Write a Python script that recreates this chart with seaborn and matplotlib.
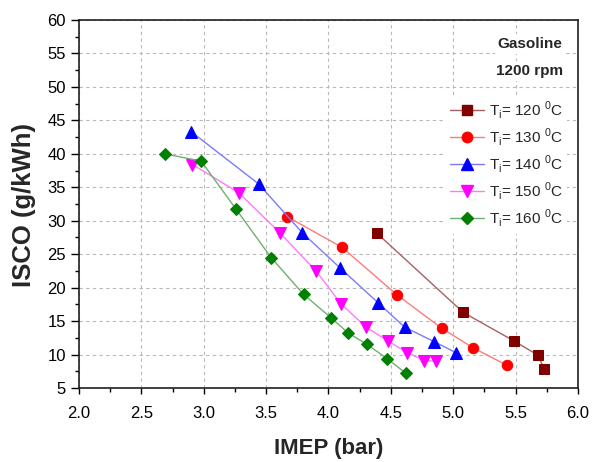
import numpy as np
import pandas as pd
import matplotlib
matplotlib.use("Agg")
import matplotlib.pyplot as plt
from matplotlib.lines import Line2D
import seaborn as sns

# ---- data ----
imep_120 = [4.39, 5.08, 5.49, 5.68, 5.73]
isco_120 = [28.1, 16.3, 12.0, 9.9, 7.8]

imep_130 = [3.67, 4.11, 4.55, 4.91, 5.16, 5.43]
isco_130 = [30.6, 26.0, 18.9, 13.9, 11.0, 8.4]

imep_140 = [2.90, 3.44, 3.79, 4.09, 4.40, 4.61, 4.85, 5.02]
isco_140 = [43.3, 35.5, 28.2, 23.0, 17.7, 14.1, 11.9, 10.3]

imep_150 = [2.91, 3.28, 3.61, 3.90, 4.10, 4.30, 4.48, 4.63, 4.77, 4.86]
isco_150 = [38.4, 34.2, 28.2, 22.5, 17.6, 14.1, 12.0, 10.3, 9.1, 9.0]

imep_160 = [2.69, 2.98, 3.26, 3.54, 3.80, 4.02, 4.16, 4.31, 4.47, 4.62]
isco_160 = [40.0, 38.9, 31.7, 24.5, 19.0, 15.5, 13.2, 11.5, 9.4, 7.2]

temps = ["120", "130", "140", "150", "160"]
x_ticks = [2.0, 2.5, 3.0, 3.5, 4.0, 4.5, 5.0, 5.5, 6.0]
y_ticks = [5, 10, 15, 20, 25, 30, 35, 40, 45, 50, 55, 60]

series = {
    "120": (imep_120, isco_120),
    "130": (imep_130, isco_130),
    "140": (imep_140, isco_140),
    "150": (imep_150, isco_150),
    "160": (imep_160, isco_160),
}

rows = []
for t in temps:
    xs, ys = series[t]
    for i, (a, b) in enumerate(zip(xs, ys)):
        rows.append({"T": t, "IMEP": a, "ISCO": b, "order": i})
df = pd.DataFrame(rows)

marker_colors = {"120": "#800000", "130": "#ff0000", "140": "#0000ff",
                 "150": "#ff00ff", "160": "#008000"}
line_colors = {"120": "#a86060", "130": "#ff7a7a", "140": "#7a7aff",
               "150": "#ff7aff", "160": "#70b070"}
markers = {"120": "s", "130": "o", "140": "^", "150": "v", "160": "D"}
msizes = {"120": 7.5, "130": 7.5, "140": 8, "150": 8, "160": 6.5}

sns.set_style("white")
plt.rcParams["font.family"] = ["Liberation Sans", "DejaVu Sans"]
plt.rcParams["mathtext.fontset"] = "custom"
plt.rcParams["mathtext.rm"] = "Liberation Sans"

fig = plt.figure(figsize=(6.02, 4.62), dpi=100)
ax = fig.add_axes([0.1312, 0.1602, 0.8288, 0.7965])

handles = []
for t in temps:
    sub = df[df["T"] == t]
    sns.lineplot(data=sub, x="IMEP", y="ISCO", sort=False, ax=ax,
                 color=line_colors[t], lw=1.0, marker=markers[t],
                 markersize=msizes[t], markerfacecolor=marker_colors[t],
                 markeredgecolor=marker_colors[t], zorder=3, legend=False)
    handles.append(Line2D([], [], color=line_colors[t], lw=1.0,
                          marker=markers[t], markersize=msizes[t],
                          markerfacecolor=marker_colors[t],
                          markeredgecolor=marker_colors[t],
                          label=r"T$_\mathregular{i}$= " + t + r" $^\mathregular{0}$C"))

ax.set_xlim(2.0, 6.0)
ax.set_ylim(5, 60)
ax.set_xticks(x_ticks)
ax.set_xticklabels([f"{v:.1f}" for v in x_ticks])
ax.set_yticks(y_ticks)
ax.set_xticks(np.arange(2.25, 6.0, 0.5), minor=True)
ax.set_yticks(np.arange(7.5, 60, 5), minor=True)
ax.tick_params(axis="both", which="both", direction="out", width=1.0,
               colors="black", bottom=True, left=True)
ax.tick_params(axis="x", which="major", length=4.3, pad=8.5, labelsize=12)
ax.tick_params(axis="x", which="minor", length=2.8)
ax.tick_params(axis="y", which="major", length=5.8, pad=3.5, labelsize=12)
ax.tick_params(axis="y", which="minor", length=2.8)

ax.grid(True, which="major", color="#b8b8b8", lw=0.8, ls=(0, (3, 3)))
for s in ax.spines.values():
    s.set_color("#202020")
    s.set_linewidth(1.2)

ax.set_xlabel("IMEP (bar)", fontsize=16, fontweight="bold")
ax.set_ylabel("ISCO (g/kWh)", fontsize=18.5, fontweight="bold")
ax.xaxis.set_label_coords(0.501, -0.135)
ax.yaxis.set_label_coords(-0.086, 0.497)

ax.text(0.904, 0.935, "Gasoline", transform=ax.transAxes, ha="center", va="center",
        fontsize=11, fontweight="bold", zorder=5,
        bbox=dict(facecolor="white", edgecolor="none", pad=2))
ax.text(0.904, 0.861, "1200 rpm", transform=ax.transAxes, ha="center", va="center",
        fontsize=11, fontweight="bold", zorder=5,
        bbox=dict(facecolor="white", edgecolor="none", pad=2))

leg = ax.legend(handles=handles, loc="upper left", bbox_to_anchor=(0.72, 0.818),
                frameon=True, fancybox=False, edgecolor="none", facecolor="white",
                framealpha=1.0, fontsize=11, handlelength=2.2, handletextpad=0.3,
                labelspacing=0.33, borderpad=0.3)
leg.set_zorder(6)

fig.savefig("out.png", dpi=100)
